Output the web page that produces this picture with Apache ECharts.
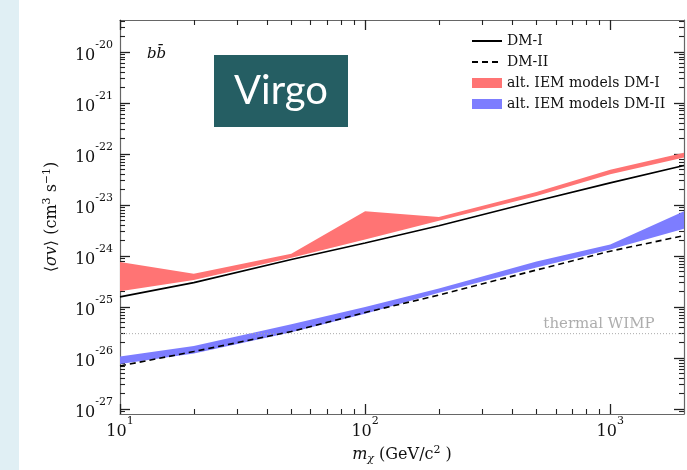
<!DOCTYPE html>
<html><head><meta charset="utf-8">
<script src="https://cdn.jsdelivr.net/npm/echarts@6/dist/echarts.min.js"></script>
<style>html,body{margin:0;padding:0;background:#fff}#c{width:687px;height:470px}</style>
</head><body><div id="c"></div><script>
// ---- data ----
const massGeV = [10, 20, 50, 100, 200, 500, 1000, 2000];
const dmI = [1.58e-25, 3.0e-25, 8.5e-25, 1.8e-24, 3.9e-24, 1.19e-23, 2.7e-23, 5.9e-23];
const dmII = [7.0e-27, 1.34e-26, 3.3e-26, 7.8e-26, 1.71e-25, 5.3e-25, 1.24e-24, 2.5e-24];
const iemDmILow = [2.04e-25, 3.36e-25, 9.2e-25, 2.1e-24, 4.9e-24, 1.5e-23, 4.0e-23, 8.5e-23];
const iemDmIHigh = [7.6e-25, 4.47e-25, 1.1e-24, 7.5e-24, 5.8e-24, 1.8e-23, 4.9e-23, 1.05e-22];
const iemDmIILow = [7.6e-27, 1.23e-26, 3.2e-26, 7.4e-26, 1.91e-25, 5.96e-25, 1.34e-24, 3.4e-24];
const iemDmIIHigh = [1.07e-26, 1.72e-26, 4.6e-26, 1.0e-25, 2.29e-25, 7.8e-25, 1.67e-24, 7.5e-24];
const thermalWimp = 3e-26;
const xTickValues = [10, 100, 1000];
const yTickValues = [1e-27, 1e-26, 1e-25, 1e-24, 1e-23, 1e-22, 1e-21, 1e-20];
const xRange = [10, 2000];
const yRange = [8e-28, 4.2e-20];

// minor tick positions (2..9 x each decade) inside the axis ranges
function minors(range, e0, e1) {
  const out = [];
  for (let e = e0; e <= e1; e++) for (let k = 2; k <= 9; k++) {
    const v = k * Math.pow(10, e);
    if (v > range[0] && v < range[1]) out.push(v);
  }
  return out;
}
const xMinor = minors(xRange, 1, 3);
const yMinor = minors(yRange, -28, -20);

const SERIF = 'DejaVu Serif';
const tickLabelRich = {
  b: { fontFamily: SERIF, fontSize: 16, color: '#111', lineHeight: 24, verticalAlign: 'bottom' },
  s: { fontFamily: SERIF, fontSize: 11, color: '#111', lineHeight: 10, verticalAlign: 'top' }
};
function powLabel(v) {
  const e = Math.round(Math.log10(v));
  return '{b|10}{s|' + e + '}';
}

const AXIS_LINE = { onZero: false, lineStyle: { color: '#666', width: 1.2 } };
const MAJOR_TICK = { inside: true, length: 10, lineStyle: { color: '#222', width: 1.3 } };
const MINOR_TICK = { inside: true, length: 5, lineStyle: { color: '#222', width: 1.1 } };

function xAx(pos, major, extra) {
  return Object.assign({
    type: 'log', logBase: 10, min: xRange[0], max: xRange[1], position: pos,
    axisLine: major ? AXIS_LINE : { show: false, onZero: false },
    axisTick: Object.assign({ customValues: major ? xTickValues : xMinor }, major ? MAJOR_TICK : MINOR_TICK),
    axisLabel: { show: false }, splitLine: { show: false }, minorTick: { show: false }
  }, extra || {});
}
function yAx(pos, major, extra) {
  return Object.assign({
    type: 'log', logBase: 10, min: yRange[0], max: yRange[1], position: pos,
    axisLine: major ? AXIS_LINE : { show: false, onZero: false },
    axisTick: Object.assign({ customValues: major ? yTickValues : yMinor }, major ? MAJOR_TICK : MINOR_TICK),
    axisLabel: { show: false }, splitLine: { show: false }, minorTick: { show: false }
  }, extra || {});
}

function bandSeries(name, lo, hi, color) {
  return {
    name, type: 'custom', z: 1, silent: true,
    data: massGeV.map((m, i) => [m, lo[i], hi[i]]),
    encode: { x: 0, y: [1, 2] },
    itemStyle: { color },
    renderItem(params, api) {
      if (params.dataIndex !== 0) return null;
      const top = massGeV.map((m, i) => api.coord([m, hi[i]]));
      const bot = massGeV.map((m, i) => api.coord([m, lo[i]])).reverse();
      return { type: 'polygon', shape: { points: top.concat(bot) }, style: { fill: color } };
    }
  };
}

const chart = echarts.init(document.getElementById('c'), null, { renderer: 'canvas' });
chart.setOption({
  animation: false,
  backgroundColor: '#fff',
  grid: { left: 120, right: 3, top: 20, bottom: 55, containLabel: false },
  xAxis: [
    xAx('bottom', true, {
      axisLabel: { show: true, customValues: xTickValues, formatter: powLabel, rich: tickLabelRich, margin: 2 },
      name: '{i|m}{sub|χ}{t| (GeV/c}{sup|2}{t| )}',
      nameLocation: 'middle', nameGap: 31,
      nameTextStyle: {
        rich: {
          i: { fontFamily: SERIF, fontStyle: 'italic', fontSize: 16, color: '#111', lineHeight: 20, verticalAlign: 'middle' },
          sub: { fontFamily: SERIF, fontStyle: 'italic', fontSize: 11, color: '#111', lineHeight: 8, verticalAlign: 'bottom' },
          t: { fontFamily: SERIF, fontSize: 16, color: '#111', lineHeight: 20, verticalAlign: 'middle' },
          sup: { fontFamily: SERIF, fontSize: 11, color: '#111', lineHeight: 8, verticalAlign: 'top' }
        }
      }
    }),
    xAx('top', true),
    xAx('bottom', false),
    xAx('top', false)
  ],
  yAxis: [
    yAx('left', true, {
      axisLabel: { show: true, customValues: yTickValues, formatter: powLabel, rich: tickLabelRich, margin: 7 },
      name: '{t|⟨}{i|σv}{t|⟩ (cm}{sup|3}{t| s}{sup|−1}{t|)}',
      nameLocation: 'middle', nameGap: 58,
      nameTextStyle: {
        rich: {
          i: { fontFamily: SERIF, fontStyle: 'italic', fontSize: 16, color: '#111', lineHeight: 20, verticalAlign: 'middle' },
          t: { fontFamily: SERIF, fontSize: 16, color: '#111', lineHeight: 20, verticalAlign: 'middle' },
          sup: { fontFamily: SERIF, fontSize: 11, color: '#111', lineHeight: 8, verticalAlign: 'top' }
        }
      }
    }),
    yAx('right', true),
    yAx('left', false),
    yAx('right', false)
  ],
  legend: {
    orient: 'vertical', left: 471, top: 34, padding: 0,
    itemWidth: 30, itemHeight: 10, itemGap: 7, itemTextGap: 11,
    textStyle: { fontFamily: SERIF, fontSize: 14, color: '#111', lineHeight: 14 },
    data: [
      { name: 'DM-I', itemStyle: { opacity: 0 } },
      { name: 'DM-II', itemStyle: { opacity: 0 } },
      { name: 'alt. IEM models DM-I', icon: 'rect' },
      { name: 'alt. IEM models DM-II', icon: 'rect' }
    ]
  },
  graphic: [
    { type: 'rect', left: 0, top: 0, shape: { width: 19, height: 470 }, style: { fill: '#e0eff4' }, silent: true },
    { type: 'rect', left: 214, top: 55, shape: { width: 134, height: 72 }, style: { fill: '#255e63' }, silent: true, z: 10 },
    { type: 'text', x: 281, y: 91, z: 11, style: { text: 'Virgo', fill: '#fff', font: '40px Lato', align: 'center', verticalAlign: 'middle' } },
    { type: 'text', x: 147, y: 54, z: 11, style: { text: 'bb\u0304', fill: '#111', font: 'italic 15px "DejaVu Serif"', align: 'left', verticalAlign: 'middle' } }
  ],
  series: [
    bandSeries('alt. IEM models DM-I', iemDmILow, iemDmIHigh, '#ff7474'),
    bandSeries('alt. IEM models DM-II', iemDmIILow, iemDmIIHigh, '#7d7dff'),
    {
      name: 'thermal WIMP', type: 'line', z: 2, symbol: 'none', showSymbol: false, silent: true,
      data: [[xRange[0], thermalWimp], [xRange[1], thermalWimp]],
      lineStyle: { color: '#aaa', width: 1, type: [1, 2] }, itemStyle: { color: '#aaa' }
    },
    {
      name: 'thermal WIMP label', type: 'scatter', z: 2, silent: true, clip: false,
      symbol: 'circle', symbolSize: 1,
      itemStyle: { color: 'rgba(0,0,0,0)' },
      data: [[xRange[1], thermalWimp]],
      label: {
        show: true, position: 'top', align: 'center', distance: 2, offset: [-85, 0],
        formatter: 'thermal WIMP', color: '#999', fontFamily: SERIF, fontSize: 15
      }
    },
    {
      name: 'DM-I', type: 'line', z: 3, symbol: 'none', showSymbol: false,
      data: massGeV.map((m, i) => [m, dmI[i]]),
      lineStyle: { color: '#000', width: 1.6 }, itemStyle: { color: '#000' }
    },
    {
      name: 'DM-II', type: 'line', z: 3, symbol: 'none', showSymbol: false,
      data: massGeV.map((m, i) => [m, dmII[i]]),
      lineStyle: { color: '#000', width: 1.6, type: [6, 4] }, itemStyle: { color: '#000' }
    }
  ]
});
</script></body></html>
